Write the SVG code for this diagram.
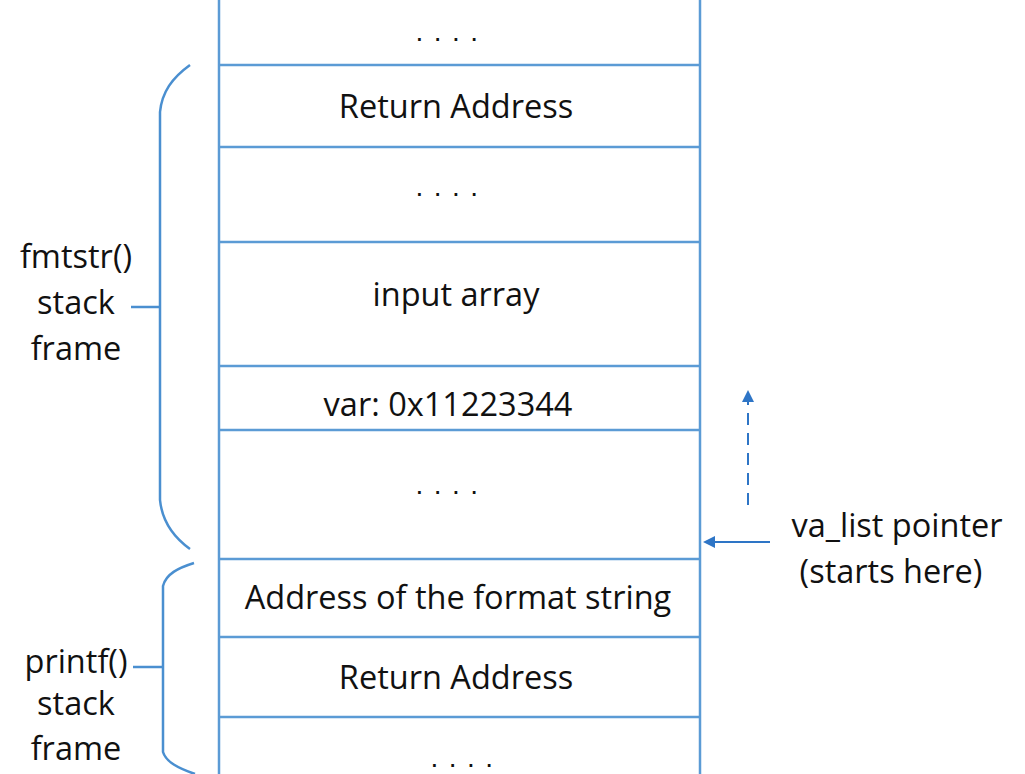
<svg xmlns="http://www.w3.org/2000/svg" width="1025" height="774" viewBox="0 0 1025 774">
<defs>
<style>
.ln{stroke:#5b9bd5;stroke-width:2.5;fill:none}
.br{stroke:#4a8fd0;stroke-width:2.5;fill:none}
.t{font-family:"Open Sans","Liberation Sans",sans-serif;font-size:32.5px;fill:#111;text-anchor:middle}
.d{font-family:"Liberation Sans",sans-serif;font-size:28px;fill:#111;text-anchor:middle;letter-spacing:10.5px}
</style>
<marker id="ah" markerWidth="12" markerHeight="12" refX="10" refY="6" orient="auto" markerUnits="userSpaceOnUse">
<path d="M0,0 L12,6 L0,12 Z" fill="#2e75c6"/>
</marker>
</defs>
<rect width="1025" height="774" fill="#fff"/>
<g id="stack">
<line class="ln" x1="219" y1="0" x2="219" y2="774"/>
<line class="ln" x1="700" y1="0" x2="700" y2="774"/>
<line class="ln" x1="219" y1="65" x2="700" y2="65"/>
<line class="ln" x1="219" y1="147" x2="700" y2="147"/>
<line class="ln" x1="219" y1="242" x2="700" y2="242"/>
<line class="ln" x1="219" y1="366" x2="700" y2="366"/>
<line class="ln" x1="219" y1="430" x2="700" y2="430"/>
<line class="ln" x1="219" y1="559" x2="700" y2="559"/>
<line class="ln" x1="219" y1="637" x2="700" y2="637"/>
<line class="ln" x1="219" y1="717" x2="700" y2="717"/>
</g>
<g id="cells">
<text class="d" x="452" y="41">....</text>
<text class="t" x="456" y="118">Return Address</text>
<text class="d" x="452" y="196">....</text>
<text class="t" x="456" y="306">input array</text>
<text class="t" x="448" y="416">var: 0x11223344</text>
<text class="d" x="452" y="494">....</text>
<text class="t" x="458" y="609">Address of the format string</text>
<text class="t" x="456" y="689">Return Address</text>
<text class="d" x="467" y="767">....</text>
</g>
<g id="fmtstr-frame">
<path class="br" d="M190,65 C172,78 162,92 160,112 L160,500 C162,520 172,536 190,549"/>
<line class="br" x1="131" y1="307" x2="160" y2="307"/>
<text class="t" x="76" y="268">fmtstr()</text>
<text class="t" x="76" y="314">stack</text>
<text class="t" x="76" y="360">frame</text>
</g>
<g id="printf-frame">
<path class="br" d="M194,563 C178,568 166,574 163,586 L163,752 C166,762 178,768 195,774"/>
<line class="br" x1="133" y1="667" x2="163" y2="667"/>
<text class="t" x="76" y="673">printf()</text>
<text class="t" x="76" y="715">stack</text>
<text class="t" x="76" y="760">frame</text>
</g>
<g id="va-list">
<text class="t" x="897" y="537">va_list pointer</text>
<text class="t" x="891" y="583">(starts here)</text>
</g>
<g id="connectors">
<line x1="748" y1="505" x2="748" y2="392" stroke="#2e75c6" stroke-width="2" stroke-dasharray="12,8" marker-end="url(#ah)"/>
<line x1="770" y1="542" x2="705" y2="542" stroke="#2e75c6" stroke-width="2" marker-end="url(#ah)"/>
</g>
</svg>
